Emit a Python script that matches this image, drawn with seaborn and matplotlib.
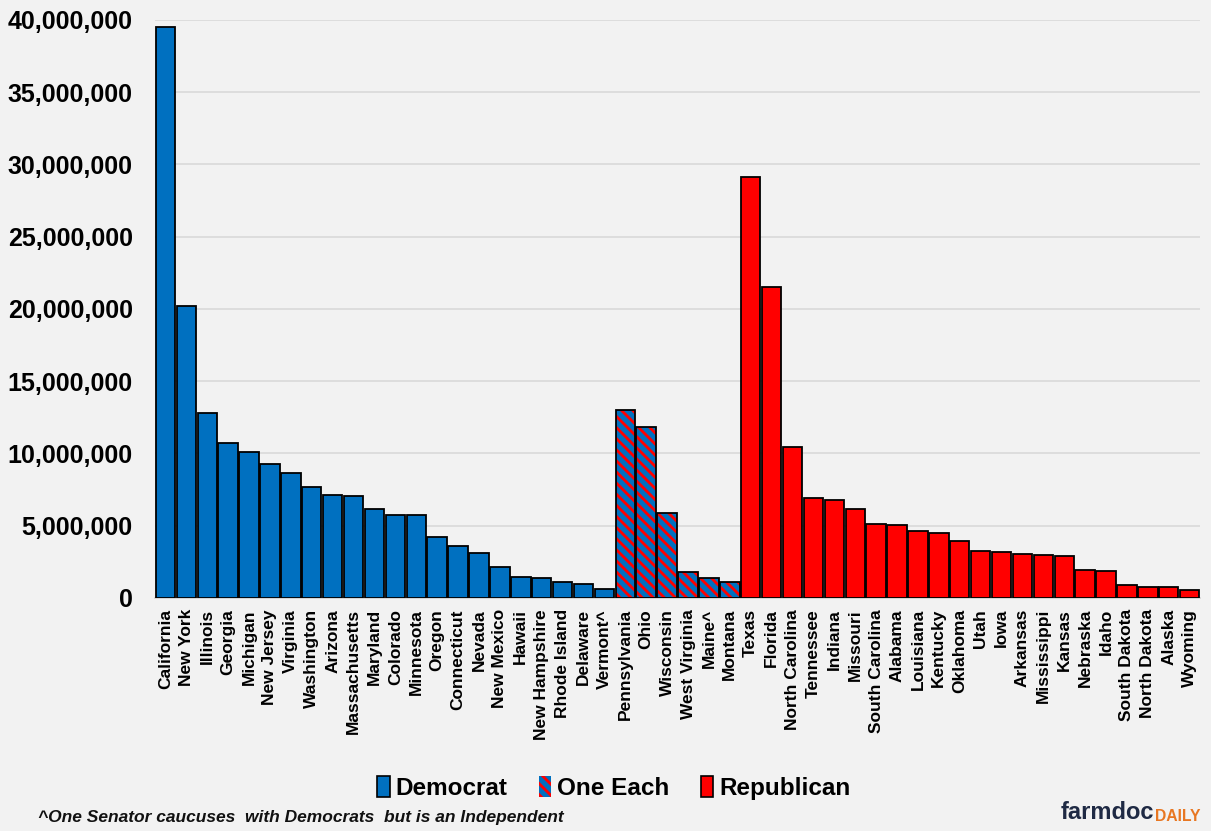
import matplotlib
matplotlib.use("Agg")
import matplotlib.pyplot as plt
import matplotlib.patches as mpatches
import seaborn as sns
import pandas as pd

states = ["California", "New York", "Illinois", "Georgia", "Michigan", "New Jersey", "Virginia",
          "Washington", "Arizona", "Massachusetts", "Maryland", "Colorado", "Minnesota", "Oregon",
          "Connecticut", "Nevada", "New Mexico", "Hawaii", "New Hampshire", "Rhode Island",
          "Delaware", "Vermont^",
          "Pennsylvania", "Ohio", "Wisconsin", "West Virginia", "Maine^", "Montana",
          "Texas", "Florida", "North Carolina", "Tennessee", "Indiana", "Missouri",
          "South Carolina", "Alabama", "Louisiana", "Kentucky", "Oklahoma", "Utah", "Iowa",
          "Arkansas", "Mississippi", "Kansas", "Nebraska", "Idaho", "South Dakota",
          "North Dakota", "Alaska", "Wyoming"]
population = [39540000, 20200000, 12810000, 10710000, 10080000, 9290000, 8630000,
              7710000, 7150000, 7030000, 6180000, 5770000, 5710000, 4240000,
              3610000, 3100000, 2120000, 1460000, 1380000, 1100000,
              990000, 640000,
              13000000, 11800000, 5890000, 1790000, 1360000, 1080000,
              29150000, 21540000, 10440000, 6910000, 6790000, 6150000,
              5120000, 5020000, 4660000, 4510000, 3960000, 3270000, 3190000,
              3010000, 2960000, 2940000, 1960000, 1840000, 890000,
              780000, 730000, 580000]
party = ["Democrat"] * 22 + ["One Each"] * 6 + ["Republican"] * 22
yticks = [0, 5000000, 10000000, 15000000, 20000000, 25000000, 30000000, 35000000, 40000000]

BLUE = "#0070C0"
RED = "#FF0000"
BG = "#F2F2F2"

df = pd.DataFrame({"state": states, "population": population, "party": party})

sns.set_theme(style="white")
plt.rcParams["font.family"] = ["Liberation Sans", "DejaVu Sans"]
plt.rcParams["hatch.linewidth"] = 2.0
plt.rcParams["text.color"] = "black"
plt.rcParams["xtick.color"] = "black"
plt.rcParams["ytick.color"] = "black"
plt.rcParams["xtick.labelcolor"] = "black"
plt.rcParams["ytick.labelcolor"] = "black"

fig = plt.figure(figsize=(12.11, 8.31), dpi=100, facecolor=BG)
ax = fig.add_axes([0.128, 0.2804, 0.863, 0.6956])
ax.set_facecolor(BG)

sns.barplot(data=df, x="state", y="population", hue="party", order=states,
            hue_order=["Democrat", "One Each", "Republican"],
            palette={"Democrat": BLUE, "One Each": BLUE, "Republican": RED},
            dodge=False, width=0.93, saturation=1, edgecolor="black", linewidth=1.3,
            legend=False, ax=ax, zorder=3)

# hatch the split-delegation bars
for cont, lab in zip(ax.containers, ["Democrat", "One Each", "Republican"]):
    if lab != "One Each":
        continue
    for p in cont.patches:
        p.set_facecolor(BLUE)
        p.set_edgecolor(RED)
        p.set_hatch("\\\\\\")
        p.set_linewidth(0)
        outline = mpatches.Rectangle((p.get_x(), p.get_y()), p.get_width(), p.get_height(),
                                     fill=False, edgecolor="black", linewidth=1.3, zorder=4)
        ax.add_patch(outline)

ax.set_xlim(-0.5, len(states) - 0.5)
ax.set_ylim(0, 40000000)
ax.set_yticks(yticks)
ax.set_yticklabels([f"{v:,}" for v in yticks], fontsize=18, fontweight="bold", color="black")
ax.tick_params(axis="y", length=0, pad=16)
ax.set_xticks(range(len(states)))
ax.set_xticklabels(states, rotation=90, fontsize=12.5, fontweight="bold", va="top", ha="center",
                   color="black")
ax.tick_params(axis="x", length=0, pad=8)
ax.set_xlabel("")
ax.set_ylabel("")
ax.grid(axis="y", color="#D9D9D9", linewidth=1.2, zorder=0)
for s in ["top", "right", "left"]:
    ax.spines[s].set_visible(False)
ax.spines["bottom"].set_color("#D0D0D0")
ax.spines["bottom"].set_linewidth(1.2)

handles = [
    mpatches.Patch(facecolor=BLUE, edgecolor="black", linewidth=1.2, label="Democrat"),
    mpatches.Patch(facecolor=BLUE, edgecolor=RED, hatch="\\\\\\", linewidth=0, label="One Each"),
    mpatches.Patch(facecolor=RED, edgecolor="black", linewidth=1.2, label="Republican"),
]
leg = fig.legend(handles=handles, loc="center", bbox_to_anchor=(0.507, 0.052), ncol=3,
                 frameon=False, handlelength=0.5, handleheight=0.95, handletextpad=0.25,
                 columnspacing=1.3, prop={"size": 17.5, "weight": "bold"})
for t in leg.get_texts():
    t.set_color("black")

fig.text(0.031, 0.007, "^One Senator caucuses  with Democrats  but is an Independent",
         fontsize=12.5, fontweight="bold", fontstyle="italic", color="#111111", ha="left",
         va="bottom")

t1 = fig.text(0.876, 0.008, "farmdoc", fontsize=17, fontweight="bold", color="#1F2A44",
              ha="left", va="bottom")
ax.annotate("DAILY", xy=(1, 0), xycoords=t1, xytext=(0.3, 0), textcoords="offset points",
            fontsize=11.3, fontweight="bold", color="#E87722", ha="left", va="bottom",
            annotation_clip=False)

fig.savefig("out.png", dpi=100, facecolor=BG)
